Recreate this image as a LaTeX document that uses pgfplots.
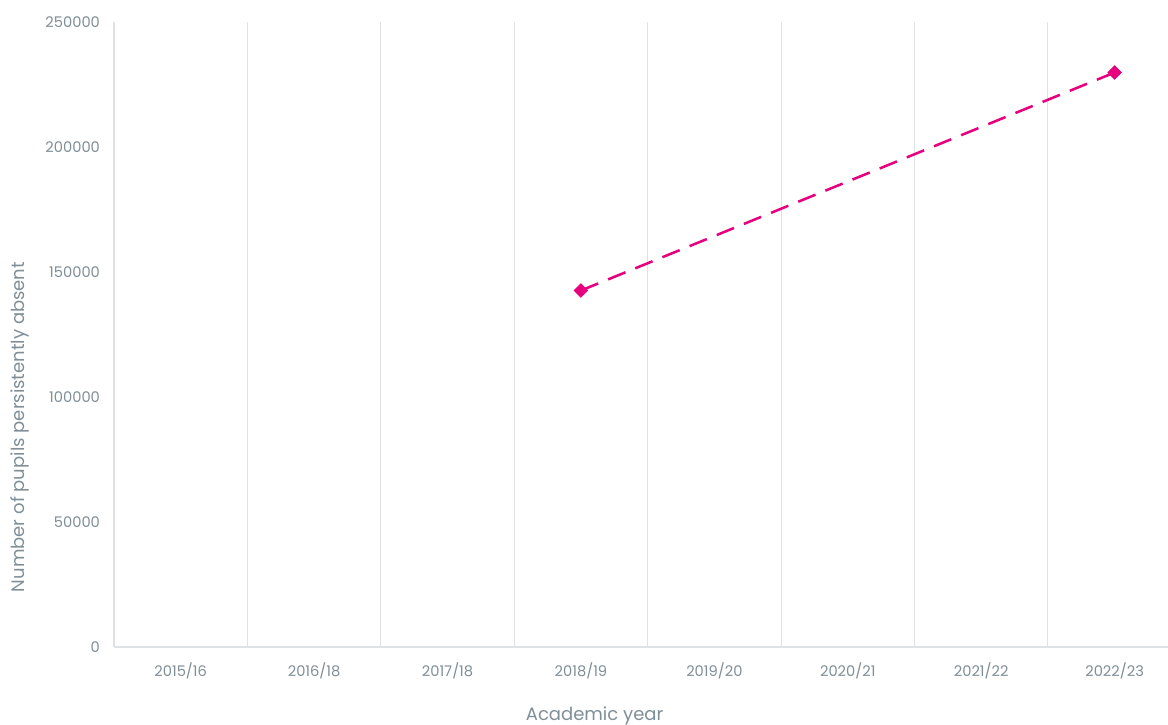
\documentclass[border=0pt]{standalone}
\usepackage{fontspec}
\setmainfont{Poppins}
\usepackage{pgfplots}
\pgfplotsset{compat=1.18}
\definecolor{tickgrey}{HTML}{7F8E97}
\definecolor{gridgrey}{HTML}{DEE2E5}
\definecolor{linemag}{HTML}{E6007E}
\begin{document}
\begin{tikzpicture}
\path[use as bounding box] (0pt,0pt) rectangle (876pt,543.75pt);
\begin{axis}[
  at={(85.5pt,58.5pt)}, anchor=south west,
  scale only axis,
  width=790.5pt, height=468.75pt,
  xmin=-0.5, xmax=7.4,
  ymin=0, ymax=250000,
  scaled y ticks=false, scaled x ticks=false,
  xtick={0,...,7},
  xticklabels={2015/16,2016/18,2017/18,2018/19,2019/20,2020/21,2021/22,2022/23},
  minor xtick={0.5,1.5,2.5,3.5,4.5,5.5,6.5},
  xminorgrids=true,
  minor grid style={draw=gridgrey, line width=0.8pt},
  ytick={0,50000,100000,150000,200000,250000},
  yticklabels={0,50000,100000,150000,200000,250000},
  major tick length=0pt, minor tick length=0pt,
  axis x line*=bottom, axis y line*=left,
  axis line style={draw=gridgrey, line width=1pt, -},
  tick label style={font=\fontsize{11}{13}\selectfont, text=tickgrey},
  yticklabel style={xshift=-7pt},
  xticklabel style={yshift=-8pt},
  xlabel={Academic year},
  ylabel={Number of pupils persistently absent},
  label style={font=\fontsize{13.5}{16}\selectfont, text=tickgrey},
  xlabel style={at={(axis description cs:0.456,-0.11)}, anchor=center},
  ylabel style={at={(axis description cs:-0.089,0.352)}, anchor=center},
  clip=false,
]
\addplot[color=linemag, line width=1.9pt, dash pattern=on 14pt off 8pt,
  mark=square*, mark size=3.6pt, mark options={solid, rotate=45, fill=linemag, draw=linemag, line width=0.5pt}]
  coordinates {(3,142600) (7,229800)};
\end{axis}
\end{tikzpicture}
\end{document}
